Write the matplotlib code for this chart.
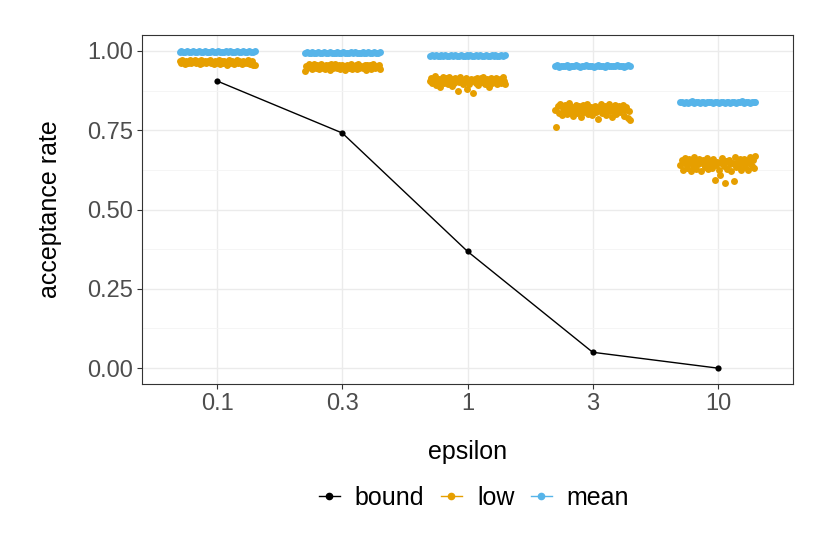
import numpy as np
import matplotlib
matplotlib.use("Agg")
import matplotlib.pyplot as plt
from matplotlib.lines import Line2D

plt.rcParams['font.family'] = ['Liberation Sans', 'DejaVu Sans']

# ---- data ----
categories = ["0.1", "0.3", "1", "3", "10"]
bound = [0.905, 0.741, 0.368, 0.050, 0.000]

low_01 = [0.968,0.962,0.971,0.965,0.960,0.969,0.966,0.963,0.970,0.961,
          0.967,0.964,0.972,0.962,0.968,0.965,0.960,0.970,0.963,0.966,
          0.969,0.961,0.967,0.964,0.971,0.962,0.966,0.958,0.968,0.963,
          0.965,0.970,0.960,0.967,0.962,0.969,0.964,0.957,0.966,0.971,
          0.961,0.968,0.963,0.959,0.966,0.970,0.962,0.967,0.964,0.958,
          0.969,0.961,0.966,0.963,0.970,0.960,0.965,0.968,0.955,0.956]
low_03 = [0.937,0.952,0.945,0.958,0.948,0.955,0.942,0.960,0.950,0.946,
          0.956,0.943,0.953,0.959,0.947,0.951,0.944,0.957,0.949,0.954,
          0.941,0.958,0.946,0.952,0.960,0.945,0.950,0.955,0.943,0.957,
          0.948,0.953,0.940,0.956,0.951,0.946,0.959,0.944,0.952,0.949,
          0.955,0.942,0.958,0.947,0.953,0.950,0.945,0.956,0.941,0.954,
          0.948,0.957,0.944,0.951,0.959,0.946,0.953,0.949,0.955,0.943]
low_1 = [0.905,0.915,0.898,0.910,0.920,0.893,0.908,0.912,0.885,0.902,
         0.917,0.900,0.907,0.913,0.896,0.919,0.904,0.890,0.911,0.899,
         0.914,0.906,0.872,0.901,0.918,0.909,0.895,0.903,0.916,0.880,
         0.907,0.897,0.912,0.904,0.868,0.910,0.899,0.915,0.892,0.906,
         0.913,0.901,0.919,0.896,0.908,0.911,0.887,0.903,0.916,0.898,
         0.909,0.905,0.914,0.894,0.902,0.912,0.900,0.917,0.906,0.897]
low_3 = [0.815,0.760,0.825,0.805,0.832,0.798,0.820,0.810,0.828,0.800,
         0.818,0.835,0.808,0.822,0.795,0.813,0.830,0.803,0.817,0.826,
         0.790,0.812,0.829,0.806,0.819,0.834,0.801,0.815,0.824,0.797,
         0.811,0.827,0.807,0.821,0.785,0.814,0.831,0.804,0.818,0.825,
         0.799,0.816,0.833,0.809,0.823,0.793,0.812,0.828,0.802,0.820,
         0.826,0.808,0.817,0.830,0.796,0.814,0.824,0.788,0.810,0.783]
low_10 = [0.640,0.655,0.625,0.648,0.662,0.632,0.645,0.658,0.620,0.650,
          0.637,0.665,0.628,0.652,0.643,0.660,0.622,0.647,0.656,0.634,
          0.649,0.661,0.627,0.644,0.654,0.631,0.659,0.594,0.641,0.651,
          0.624,0.610,0.646,0.663,0.636,0.582,0.653,0.629,0.657,0.642,
          0.621,0.648,0.590,0.666,0.633,0.650,0.639,0.658,0.626,0.645,
          0.660,0.635,0.652,0.623,0.647,0.664,0.638,0.655,0.630,0.670]

mean_01 = [0.997,0.998,0.996,0.997,0.998,0.997,0.996,0.998,0.997,0.997,
           0.998,0.996,0.997,0.998,0.997,0.996,0.997,0.998,0.997,0.996,
           0.998,0.997,0.997,0.996,0.998,0.997,0.998,0.996,0.997,0.997,
           0.998,0.996,0.997,0.998,0.997,0.996,0.998,0.997,0.997,0.998]
mean_03 = [0.994,0.995,0.993,0.994,0.995,0.994,0.993,0.995,0.994,0.994,
           0.995,0.993,0.994,0.995,0.994,0.993,0.994,0.995,0.994,0.993,
           0.995,0.994,0.994,0.993,0.995,0.994,0.995,0.993,0.994,0.994,
           0.995,0.993,0.994,0.995,0.994,0.993,0.995,0.994,0.994,0.995]
mean_1 = [0.985,0.987,0.984,0.986,0.983,0.985,0.987,0.984,0.986,0.985,
          0.983,0.986,0.985,0.987,0.984,0.985,0.986,0.983,0.985,0.987,
          0.984,0.986,0.985,0.983,0.986,0.984,0.987,0.985,0.984,0.986,
          0.985,0.983,0.986,0.985,0.987,0.984,0.985,0.986,0.984,0.986]
mean_3 = [0.952,0.954,0.950,0.953,0.951,0.952,0.955,0.950,0.953,0.952,
          0.951,0.954,0.952,0.950,0.953,0.952,0.954,0.951,0.952,0.953,
          0.950,0.952,0.954,0.951,0.953,0.952,0.950,0.954,0.952,0.951,
          0.953,0.952,0.955,0.951,0.952,0.953,0.950,0.952,0.954,0.952]
mean_10 = [0.838,0.840,0.836,0.839,0.837,0.838,0.841,0.836,0.839,0.838,
           0.837,0.840,0.838,0.836,0.839,0.838,0.840,0.837,0.838,0.839,
           0.836,0.838,0.840,0.837,0.839,0.838,0.836,0.840,0.838,0.837,
           0.839,0.838,0.841,0.837,0.838,0.839,0.836,0.838,0.840,0.838]

low_groups = [low_01, low_03, low_1, low_3, low_10]
mean_groups = [mean_01, mean_03, mean_1, mean_3, mean_10]

yticks = [0.00, 0.25, 0.50, 0.75, 1.00]
ytick_labels = ["0.00", "0.25", "0.50", "0.75", "1.00"]

# ---- style ----
C_BOUND = "#000000"
C_LOW = "#E69F00"
C_MEAN = "#56B4E9"
JIT = 0.3

W, H = 830, 554
fig = plt.figure(figsize=(W / 100, H / 100), dpi=100)
ax = fig.add_axes([142 / W, (H - 384) / H, 651 / W, 349 / H])

xpos = np.arange(len(categories))

for i, (lo, me) in enumerate(zip(low_groups, mean_groups)):
    xl = xpos[i] + np.linspace(-JIT, JIT, len(lo))
    xm = xpos[i] + np.linspace(-JIT, JIT, len(me))
    ax.scatter(xl, lo, s=25, color=C_LOW, linewidths=0, zorder=3)
    ax.scatter(xm, me, s=25, color=C_MEAN, linewidths=0, zorder=3)

ax.plot(xpos, bound, color=C_BOUND, lw=1.0, zorder=4)
ax.scatter(xpos, bound, s=20, color=C_BOUND, linewidths=0, zorder=5)

ax.set_xlim(-0.6, len(categories) - 1 + 0.6)
ax.set_ylim(-0.05, 1.05)
ax.set_xticks(xpos)
ax.set_xticklabels(categories)
ax.set_yticks(yticks)
ax.set_yticklabels(ytick_labels)
ax.set_yticks([0.125, 0.375, 0.625, 0.875], minor=True)

ax.grid(True, which="major", color="#EBEBEB", lw=1.0, zorder=0)
ax.grid(True, which="minor", axis="y", color="#F4F4F4", lw=0.6, zorder=0)
ax.set_axisbelow(True)

for sp in ax.spines.values():
    sp.set_color("#333333")
    sp.set_linewidth(0.8)

ax.tick_params(axis="both", which="major", length=3.5, width=0.8, color="#333333",
               labelsize=17, labelcolor="#4D4D4D", pad=3)
ax.tick_params(axis="both", which="minor", length=0)

ax.set_xlabel("epsilon", fontsize=18, color="black", labelpad=18)
ax.set_ylabel("acceptance rate", fontsize=18, color="black", labelpad=18)

handles = [
    Line2D([0], [0], color=C_BOUND, lw=1.0, marker="o", markersize=4.5),
    Line2D([0], [0], color=C_LOW, lw=1.0, marker="o", markersize=4.5),
    Line2D([0], [0], color=C_MEAN, lw=1.0, marker="o", markersize=4.5),
]
fig.legend(handles, ["bound", "low", "mean"], loc="center", ncol=3,
           bbox_to_anchor=(474 / W, 1 - 498 / H), frameon=False, fontsize=18,
           handlelength=0.85, handletextpad=0.6, columnspacing=0.65)

fig.savefig("out.png", dpi=100)
